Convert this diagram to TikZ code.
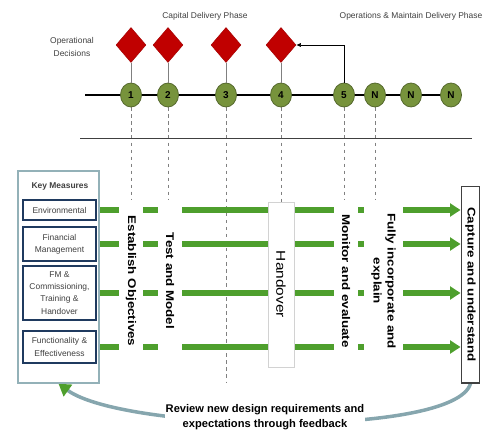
\documentclass[tikz,border=0pt]{standalone}
\usepackage{fontspec}
\setmainfont{Liberation Sans}
\newfontfamily\tallfont[FakeStretch=1.2]{Liberation Sans}
\usetikzlibrary{arrows.meta,shapes.geometric,backgrounds}
\definecolor{decred}{HTML}{C00000}
\definecolor{stagegreen}{HTML}{77933C}
\definecolor{stageedge}{HTML}{4F6228}
\definecolor{bargreen}{HTML}{4E9F2D}
\definecolor{loopgray}{HTML}{86A6AE}
\definecolor{navy}{HTML}{1F3A5F}
\definecolor{keyedge}{HTML}{93B1B8}
\definecolor{txtgray}{HTML}{404040}
\tikzset{small/.style = {font=\fontsize{7.2}{10.4}\selectfont, text=txtgray, align=center}}
\tikzset{dec/.style = {diamond, fill=decred, draw=decred!85!black, inner sep=0, minimum width=25.6pt, minimum height=29.9pt}}
\tikzset{stage/.style = {ellipse, fill=stagegreen, draw=stageedge, line width=0.6pt, inner sep=0, minimum width=18pt, minimum height=20.5pt, font=\bfseries\fontsize{8.5}{9}\selectfont}}
\tikzset{guide/.style = {gray, line width=0.4pt, dash pattern=on 3pt off 3pt}}
\tikzset{measure/.style = {small, draw=navy, line width=1.4pt, fill=white, minimum width=62.3pt, inner sep=0}}
\tikzset{bar/.style = {draw=bargreen, line width=5pt, -{Triangle[length=9pt,width=11pt]}}}
\tikzset{phase/.style = {rotate=-90, fill=white, inner sep=0, minimum width=138pt, minimum height=21pt, align=center, font=\tallfont\bfseries\fontsize{9.5}{12}\selectfont}}

\begin{document}
\begin{tikzpicture}[x=0.03cm, y=-0.03cm]
    \useasboundingbox (0,0) rectangle (483,432);
    % phase titles
    \node[small] (capital) at (205,16) {Capital Delivery Phase};
    \node[small] (operate) at (411,16) {Operations \& Maintain Delivery Phase};
    \node[small] (opdec) at (72,47) {Operational\\Decisions};
    % time line
    \coordinate (tstart) at (85,95);
    \coordinate (tend) at (451,95);
    \coordinate (sepL) at (80,138);
    \coordinate (sepR) at (472,138);
    \draw[line width=2.5pt] (tstart) -- (tend);
    \draw[txtgray, line width=0.8pt] (sepL) -- (sepR);
    \foreach \n/\x/\t in {1/131/1, 2/168/2, 3/226/3, 4/281/4, 5/344/5, 6/375/N, 7/411/N, 8/451/N}
        \node[stage] (c\n) at (\x,95) {\t};
    \foreach \n/\x in {1/131, 2/168, 3/226, 4/281} {
        \node[dec] (d\n) at (\x,45) {};
        \draw[gray, line width=0.6pt] (d\n.south) -- (c\n.north);
    }
    \draw[-{Latex[length=4pt,width=3.5pt]}, line width=0.5pt] (c5.north) |- (d4.east);

    % key measures
    \node[draw=keyedge, line width=1.2pt, fill=white, minimum width=69pt, minimum height=181pt, inner sep=0] (key) at (58.5,277) {};
    \node[font=\bfseries\fontsize{7.2}{9}\selectfont, text=txtgray] (keytitle) at (60,186) {Key Measures};
    \node[measure, minimum height=17pt] (env) at (59.5,210) {Environmental};
    \node[measure, minimum height=29pt] (fin) at (59.5,244) {Financial\\Management};
    \node[measure, minimum height=46pt] (fm) at (59.5,293) {FM \&\\Commissioning,\\Training \&\\Handover};
    \node[measure, minimum height=27.3pt] (func) at (59.5,347) {Functionality \&\\Effectiveness};
    \node[draw=txtgray, fill=white, line width=1pt, rotate=-90, minimum width=168pt, minimum height=16pt, inner sep=0,
          font=\tallfont\bfseries\fontsize{9.5}{12}\selectfont] (cap) at (470.5,284.5) {Capture and understand};

    % stage labels
    \node[phase] (lest) at (131,281) {Establish Objectives};
    \node[phase] (ltest) at (170,281) {Test and Model};
    \node[phase, draw=gray!35, minimum width=141pt, minimum height=22pt, font=\tallfont\fontsize{11}{13}\selectfont] (lhand) at (281,284.5) {Handover};
    \node[phase] (lmon) at (346,281) {Monitor and evaluate};
    \node[phase, minimum height=33pt] (lfully) at (383.5,281) {Fully incorporate and\\explain};
    \node[font=\bfseries\fontsize{9.5}{13}\selectfont, fill=white, align=center, inner sep=1pt] (review) at (265,417)
        {Review new design requirements and\\expectations through feedback};

    \begin{pgfonlayer}{background}
        \coordinate (g3end) at (226,383);
        \draw[guide] (c1.south) -- (c1.south |- lest.west);
        \draw[guide] (c2.south) -- (c2.south |- ltest.west);
        \draw[guide] (c3.south) -- (g3end);
        \draw[guide] (c4.south) -- (lhand.west);
        \draw[guide] (c5.south) -- (c5.south |- lmon.west);
        \draw[guide] (c6.south) -- (c6.south |- lfully.west);
        \foreach \m in {env, fin, fm, func}
            \draw[bar] (\m.east) -- (\m.east -| cap.south);
        \draw[loopgray, line width=3pt, -{Triangle[length=10pt,width=12pt,color=bargreen]}]
            (cap.east) .. controls (455,438) and (125,432) .. (key.south);
    \end{pgfonlayer}
\end{tikzpicture}
\end{document}
